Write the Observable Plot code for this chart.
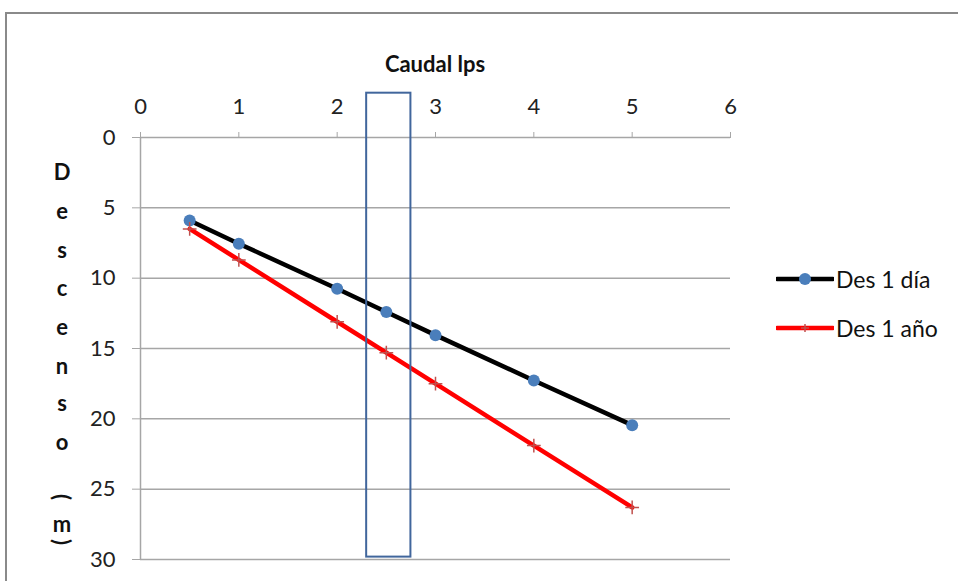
<!DOCTYPE html>
<html>
<head>
<meta charset="utf-8">
<script src="https://cdn.jsdelivr.net/npm/d3@7"></script>
<script src="https://cdn.jsdelivr.net/npm/@observablehq/plot@0.6"></script>
<style>
  html, body { margin: 0; padding: 0; background: #fff; }
  #wrap { position: relative; width: 958px; height: 581px; overflow: hidden; font-family: Lato, "Liberation Sans", sans-serif; }
  #frame { position: absolute; left: 5px; top: 12px; width: 1000px; height: 1000px; border-left: 2px solid #8a8a8a; border-top: 2px solid #8a8a8a; }
  #title { position: absolute; left: 335px; width: 200px; top: 50px; text-align: center; font-weight: bold; font-size: 22px; color: #111; }
  .ylab { position: absolute; width: 30px; left: 47px; text-align: center; font-weight: bold; font-size: 22px; color: #111; line-height: 20px; }
  .leg { position: absolute; left: 776px; font-size: 23px; color: #111; }
  .leg svg { vertical-align: middle; }
  .leg span { vertical-align: middle; margin-left: 2px; }
  #chart { position: absolute; left: 0; top: 0; }
</style>
</head>
<body>
<div id="wrap">
  <div id="frame"></div>
  <div id="chart"></div>
  <div id="title"></div>
  <div id="ylabel"></div>
  <div id="legend"></div>
</div>
<script>
// Data
const caudal = [0.5, 1, 2, 2.5, 3, 4, 5];
const desDia = [5.9, 7.55, 10.75, 12.4, 14.05, 17.27, 20.45];
const desAnio = [6.5, 8.7, 13.1, 15.3, 17.5, 21.9, 26.3];
const xTicks = [0, 1, 2, 3, 4, 5, 6];
const yTicks = [0, 5, 10, 15, 20, 25, 30];
const bandX = [2.3, 2.75];
const bandY = [-3.15, 29.83];
const seriesNames = ["Des 1 día", "Des 1 año"];
const xTitle = "Caudal lps";
const yTitleChars = ["D", "e", "s", "c", "e", "n", "s", "o", "(", "m", ")"];

const dia = caudal.map((x, i) => ({x, y: desDia[i]}));
const anio = caudal.map((x, i) => ({x, y: desAnio[i]}));

const grid = "#a6a6a6";
const chart = Plot.plot({
  width: 958,
  height: 581,
  marginLeft: 140,
  marginRight: 228,
  marginTop: 137,
  marginBottom: 22,
  style: {fontSize: "22px", fontFamily: "Lato, sans-serif", background: "transparent", color: "#222"},
  x: {domain: [0, 6], label: null},
  y: {domain: [0, 30], reverse: true, label: null},
  marks: [
    Plot.gridY(yTicks, {stroke: grid, strokeOpacity: 1, strokeWidth: 1.5}),
    Plot.ruleX([0], {stroke: grid, strokeWidth: 1.5}),
    Plot.axisX(xTicks, {anchor: "top", tickSize: 6, tickPadding: 18, stroke: grid, fill: "#222", label: null}),
    Plot.axisY(yTicks, {anchor: "left", tickSize: 8, tickPadding: 17, stroke: grid, fill: "#222", label: null}),
    Plot.line(dia, {x: "x", y: "y", stroke: "#000", strokeWidth: 4.5}),
    Plot.dot(dia, {x: "x", y: "y", r: 6, fill: "#4a7ebb", stroke: "none"}),
    Plot.line(anio, {x: "x", y: "y", stroke: "#ff0000", strokeWidth: 4.5}),
    Plot.dot(anio, {x: "x", y: "y", symbol: "plus", r: 4.5, stroke: "#c0504d", strokeWidth: 1.5}),
    Plot.rect([{x1: bandX[0], x2: bandX[1], y1: bandY[0], y2: bandY[1]}], {x1: "x1", x2: "x2", y1: "y1", y2: "y2", fill: "none", stroke: "#41669c", strokeWidth: 2})
  ]
});
document.getElementById("chart").appendChild(chart);

document.getElementById("title").textContent = xTitle;

// stacked y label
const yPos = [172, 211, 250, 288, 327, 366, 403, 442, 497, 524, 542];
const ylab = document.getElementById("ylabel");
yTitleChars.forEach((c, i) => {
  const d = document.createElement("div");
  d.className = "ylab";
  d.textContent = c;
  d.style.top = (yPos[i] - 10) + "px";
  if (c === "(" || c === ")") d.style.transform = "rotate(90deg)";
  ylab.appendChild(d);
});

// legend
const leg = document.getElementById("legend");
const legTops = [277, 326];
seriesNames.forEach((name, i) => {
  const d = document.createElement("div");
  d.className = "leg";
  d.style.top = (legTops[i] - 15) + "px";
  const marker = i === 0
    ? '<circle cx="29" cy="15" r="6" fill="#4a7ebb"/>'
    : '<path d="M25,15H33M29,11V19" stroke="#c0504d" stroke-width="1.5"/>';
  const col = i === 0 ? "#000" : "#ff0000";
  d.innerHTML = `<svg width="58" height="30"><line x1="1" x2="57" y1="15" y2="15" stroke="${col}" stroke-width="4.5" stroke-linecap="round"/>${marker}</svg><span></span>`;
  d.querySelector("span").textContent = name;
  leg.appendChild(d);
});
</script>
</body>
</html>
